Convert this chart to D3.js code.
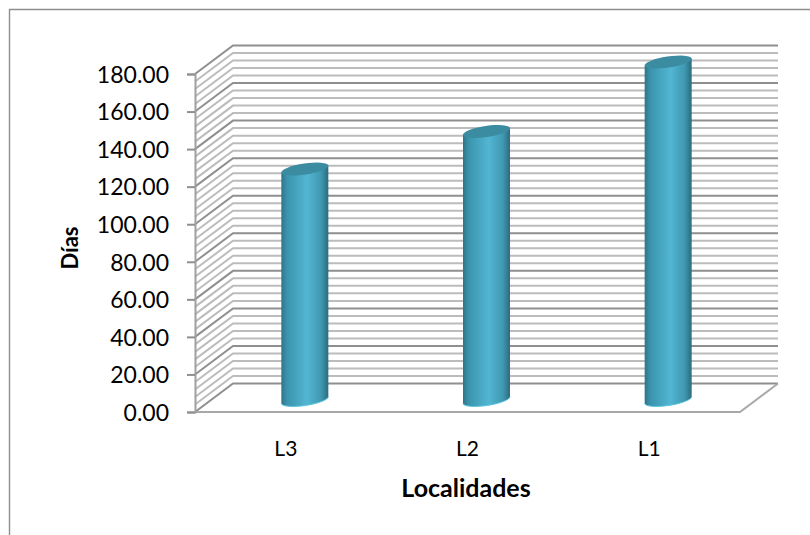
<!DOCTYPE html>
<html>
<head>
<meta charset="utf-8">
<script src="https://cdn.jsdelivr.net/npm/d3@7/dist/d3.min.js"></script>
<style>
html,body{margin:0;padding:0;background:#fff}
svg{display:block}
text{font-family:Lato,"Open Sans",sans-serif;fill:#000}
</style>
</head>
<body>
<svg id="chart" width="810" height="535"></svg>
<script>
// Days per locality, 3-D cylinder column chart
const categories = ["L3", "L2", "L1"];
const dias = [123, 143, 180];
const yDomain = [0, 180];
const majorStep = 20;
const minorStep = 4;
const yTitle = "Días";
const xTitle = "Localidades";

const svg = d3.select("#chart");
const plot = {left: 195, right: 740, top: 74, bottom: 412};
const depth = {dx: 38, dy: -28.5};

const y = d3.scaleLinear().domain(yDomain).range([plot.bottom, plot.top]);
const x = d3.scaleBand().domain(categories).range([plot.left, plot.right]);

// Outer chart frame: only the top and left edges fall inside the page
svg.append("path").attr("d", "M9.5,535V9.5H810").attr("fill", "none")
  .attr("stroke", "#8e8e8e").attr("stroke-width", 1.4);

const majors = d3.range(yDomain[0], yDomain[1] + 1, majorStep);
const minors = d3.range(yDomain[0], yDomain[1] + 1, minorStep).filter(v => v % majorStep !== 0);

// Back wall and side wall rules
function rule(v, cls, color, width) {
  const yy = y(v);
  svg.append("path").attr("class", cls)
    .attr("d", `M${plot.left},${yy}L${plot.left + depth.dx},${yy + depth.dy}H${plot.right + depth.dx}`)
    .attr("fill", "none").attr("stroke", color).attr("stroke-width", width);
}
minors.forEach(v => rule(v, "minor", "#bcbcbc", 2));
majors.forEach(v => rule(v, "major", "#8f8f8f", 2));

// Floor
svg.append("path")
  .attr("d", `M${plot.left},${y(0)}H${plot.right}L${plot.right + depth.dx},${y(0) + depth.dy}`)
  .attr("fill", "none").attr("stroke", "#a8a8a8").attr("stroke-width", 2);

// Value axis with outward ticks
const axisG = svg.append("g").attr("transform", `translate(${plot.left},0)`);
axisG.call(d3.axisLeft(y).tickValues(majors).tickSize(8).tickPadding(18).tickFormat(d3.format(".2f")));
axisG.selectAll("path.domain").attr("stroke", "#a0a0a0").attr("stroke-width", 2);
axisG.selectAll(".tick line").attr("stroke", "#8f8f8f").attr("stroke-width", 2);
axisG.selectAll(".tick text").style("font-size", "23px").attr("fill", "#000").attr("dy", "0.36em");

// Cylinder shading
const defs = svg.append("defs");
const grad = defs.append("linearGradient").attr("id", "cyl").attr("x1", 0).attr("x2", 1).attr("y1", 0).attr("y2", 0);
[[0, "#2f7488"], [0.12, "#3b94ad"], [0.55, "#52b6d3"], [0.85, "#3f98b1"], [1, "#2c6b7e"]]
  .forEach(([o, c]) => grad.append("stop").attr("offset", o).attr("stop-color", c));

const barWidth = 47;
const barShift = {dx: 19, dy: -12};
const tilt = -8.5;
const ry = 5.5;

const bars = svg.selectAll("g.bar").data(categories.map((c, i) => ({c, v: dias[i]}))).join("g").attr("class", "bar");
bars.each(function(d) {
  const g = d3.select(this);
  const cx = x(d.c) + x.bandwidth() / 2 + barShift.dx;
  const yTop = y(d.v) + barShift.dy;
  const yBase = y(0) + barShift.dy;
  const rx = barWidth / 2;
  const s = Math.tan(tilt * Math.PI / 180) * rx;
  const rr = rx / Math.cos(tilt * Math.PI / 180);
  const arc = `A${rr},${ry} ${tilt} 0 1 `;
  // body: top rim, right side, lower rim of the base ellipse, left side
  g.append("path")
    .attr("d", `M${cx - rx},${yTop - s}L${cx + rx},${yTop + s}V${yBase + s}${arc}${cx - rx},${yBase - s}Z`)
    .attr("fill", "url(#cyl)");
  // base rim highlight
  g.append("path")
    .attr("d", `M${cx + rx},${yBase + s}${arc}${cx - rx},${yBase - s}`)
    .attr("fill", "none").attr("stroke", "#5cc4de").attr("stroke-width", 1);
  // cap
  g.append("ellipse").attr("cx", cx).attr("cy", yTop).attr("rx", rr).attr("ry", ry)
    .attr("transform", `rotate(${tilt} ${cx} ${yTop})`).attr("fill", "#3b8ba1");
});

// Category labels and axis titles
svg.selectAll("text.cat").data(categories).join("text").attr("class", "cat")
  .attr("x", d => x(d) + x.bandwidth() / 2)
  .attr("y", 456).attr("text-anchor", "middle").style("font-size", "21px").text(d => d);

svg.append("text").attr("x", 466).attr("y", 497).attr("text-anchor", "middle")
  .style("font-size", "25px").style("font-weight", "700").text(xTitle);

svg.append("text").attr("transform", "translate(78,248) rotate(-90)").attr("text-anchor", "middle")
  .style("font-size", "22px").style("font-weight", "700").text(yTitle);
</script>
</body>
</html>
